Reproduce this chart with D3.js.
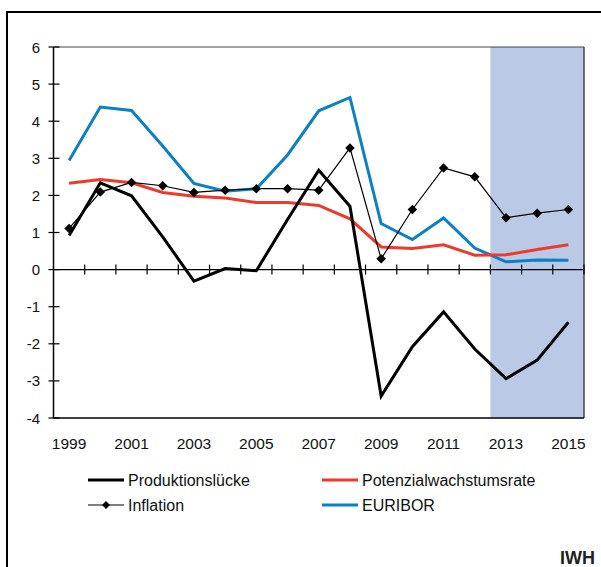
<!DOCTYPE html>
<html>
<head>
  <meta charset="utf-8">
  <title>Produktionslücke, Inflation, EURIBOR</title>
  <script src="https://d3js.org/d3.v7.min.js"></script>
  <style>
    body { margin: 0; background: #fff; }
    svg { display: block; font-family: "Liberation Sans", Arial, sans-serif; }
  </style>
</head>
<body>
<svg id="chart" width="601" height="567"></svg>
<script>
  // data
  var years = d3.range(1999, 2016);
  var yearLabels = ["1999", "2001", "2003", "2005", "2007", "2009", "2011", "2013", "2015"];
  var yTicks = [-4, -3, -2, -1, 0, 1, 2, 3, 4, 5, 6];
  var forecastYears = [2013, 2014, 2015];

  var produktionsluecke = [0.92, 2.34, 1.99, 0.88, -0.31, 0.03, -0.03, 1.35, 2.68, 1.71, -3.41, -2.08, -1.14, -2.14, -2.94, -2.44, -1.42];
  var potenzial = [2.33, 2.43, 2.34, 2.08, 1.98, 1.93, 1.81, 1.81, 1.73, 1.37, 0.61, 0.57, 0.67, 0.39, 0.40, 0.54, 0.67];
  var inflation = [1.11, 2.09, 2.35, 2.26, 2.08, 2.14, 2.18, 2.18, 2.14, 3.28, 0.29, 1.62, 2.74, 2.50, 1.40, 1.52, 1.62];
  var euribor = [2.94, 4.38, 4.29, 3.33, 2.32, 2.11, 2.18, 3.09, 4.28, 4.64, 1.24, 0.81, 1.39, 0.58, 0.21, 0.26, 0.25];

  var svg = d3.select("#chart");

  // plot area (note: "top" is taken by window.top)
  var pLeft = 53.5, pRight = 584, pTop = 47, pBottom = 418;

  var x = d3.scaleBand().domain(years).range([pLeft, pRight]).padding(0);
  var y = d3.scaleLinear().domain([-4, 6]).range([pBottom, pTop]);
  var cx = function(yr) { return x(yr) + x.bandwidth() / 2; };

  // outer frame
  svg.append("rect")
    .attr("x", 7).attr("y", 12).attr("width", 620).attr("height", 600)
    .attr("fill", "none").attr("stroke", "#000").attr("stroke-width", 2);

  // forecast shading
  svg.append("rect")
    .attr("x", x(forecastYears[0]))
    .attr("y", pTop)
    .attr("width", pRight - x(forecastYears[0]))
    .attr("height", pBottom - pTop)
    .attr("fill", "#bacae6");

  // plot border
  svg.append("line").attr("x1", pLeft).attr("x2", pRight).attr("y1", pTop).attr("y2", pTop)
    .attr("stroke", "#444").attr("stroke-width", 1);
  svg.append("line").attr("x1", pRight).attr("x2", pRight).attr("y1", pTop).attr("y2", pBottom)
    .attr("stroke", "#444").attr("stroke-width", 1.5);
  svg.append("line").attr("x1", pLeft).attr("x2", pRight).attr("y1", pBottom).attr("y2", pBottom)
    .attr("stroke", "#000").attr("stroke-width", 1.5);

  // y axis
  svg.append("line").attr("x1", pLeft).attr("x2", pLeft).attr("y1", pTop).attr("y2", pBottom)
    .attr("stroke", "#000").attr("stroke-width", 1.5);
  svg.selectAll(".ytick").data(yTicks).enter().append("line")
    .attr("x1", pLeft - 5).attr("x2", pLeft + 6)
    .attr("y1", function(d) { return y(d); }).attr("y2", function(d) { return y(d); })
    .attr("stroke", "#000").attr("stroke-width", 1.2);
  svg.selectAll(".ylab").data(yTicks).enter().append("text")
    .attr("x", 40).attr("y", function(d) { return y(d) + 5.5; })
    .attr("text-anchor", "end").attr("font-size", 15).attr("fill", "#111")
    .text(function(d) { return d; });

  // x axis at zero with ticks on the year boundaries
  svg.append("line").attr("x1", pLeft).attr("x2", pRight).attr("y1", y(0)).attr("y2", y(0))
    .attr("stroke", "#000").attr("stroke-width", 1.2);
  var bounds = years.map(function(d) { return x(d) + x.bandwidth(); });
  svg.selectAll(".xtick").data(bounds).enter().append("line")
    .attr("x1", function(d) { return d; }).attr("x2", function(d) { return d; })
    .attr("y1", y(0) - 5).attr("y2", y(0) + 5)
    .attr("stroke", "#000").attr("stroke-width", 1.2);
  svg.selectAll(".xlab").data(yearLabels).enter().append("text")
    .attr("x", function(d) { return cx(+d); }).attr("y", 449)
    .attr("text-anchor", "middle").attr("font-size", 15.5).attr("fill", "#111")
    .text(function(d) { return d; });

  // lines
  var line = d3.line()
    .x(function(d, i) { return cx(years[i]); })
    .y(function(d) { return y(d); });

  svg.append("path").datum(euribor).attr("d", line)
    .attr("fill", "none").attr("stroke", "#0a80c6").attr("stroke-width", 3);
  svg.append("path").datum(potenzial).attr("d", line)
    .attr("fill", "none").attr("stroke", "#ee3a2c").attr("stroke-width", 3);
  svg.append("path").datum(inflation).attr("d", line)
    .attr("fill", "none").attr("stroke", "#000").attr("stroke-width", 1.2);
  svg.append("path").datum(produktionsluecke).attr("d", line)
    .attr("fill", "none").attr("stroke", "#000").attr("stroke-width", 3);

  var diamond = d3.symbol().type(d3.symbolDiamond2).size(58);
  svg.selectAll(".mark").data(inflation).enter().append("path")
    .attr("d", diamond)
    .attr("transform", function(d, i) { return "translate(" + cx(years[i]) + "," + y(d) + ")"; })
    .attr("fill", "#000");

  // legend
  var legend = [
    { name: "Produktionslücke", color: "#000", width: 3, marker: false, lx: 88, ly: 480 },
    { name: "Potenzialwachstumsrate", color: "#ee3a2c", width: 3, marker: false, lx: 322, ly: 480 },
    { name: "Inflation", color: "#000", width: 1.2, marker: true, lx: 88, ly: 505 },
    { name: "EURIBOR", color: "#0a80c6", width: 3, marker: false, lx: 322, ly: 505 }
  ];
  var lg = svg.selectAll(".leg").data(legend).enter().append("g");
  lg.append("line")
    .attr("x1", function(d) { return d.lx; }).attr("x2", function(d) { return d.lx + 36; })
    .attr("y1", function(d) { return d.ly; }).attr("y2", function(d) { return d.ly; })
    .attr("stroke", function(d) { return d.color; })
    .attr("stroke-width", function(d) { return d.width; });
  lg.filter(function(d) { return d.marker; }).append("path")
    .attr("d", d3.symbol().type(d3.symbolDiamond2).size(40))
    .attr("transform", function(d) { return "translate(" + (d.lx + 18) + "," + d.ly + ")"; })
    .attr("fill", "#000");
  lg.append("text")
    .attr("x", function(d) { return d.lx + 40; }).attr("y", function(d) { return d.ly + 6; })
    .attr("font-size", 16).attr("fill", "#111")
    .text(function(d) { return d.name; });

  svg.append("text")
    .attr("x", 560).attr("y", 564)
    .attr("font-size", 18).attr("font-weight", "bold").attr("fill", "#222")
    .text("IWH");
</script>
</body>
</html>
